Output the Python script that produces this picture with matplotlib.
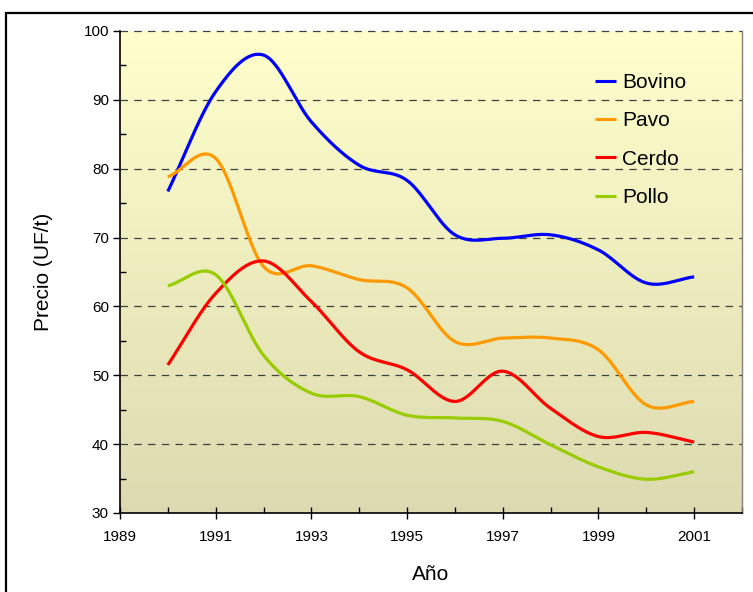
import numpy as np
import matplotlib
matplotlib.use("Agg")
import matplotlib.pyplot as plt
from matplotlib.patches import Rectangle
from matplotlib.colors import LinearSegmentedColormap

plt.rcParams['font.family'] = ['Liberation Sans Narrow', 'Liberation Sans', 'DejaVu Sans']

years = [1990, 1991, 1992, 1993, 1994, 1995, 1996, 1997, 1998, 1999, 2000, 2001]
bovino = [76.7, 91.2, 96.5, 86.8, 80.5, 78.3, 70.4, 69.9, 70.4, 68.2, 63.4, 64.3]
pavo = [78.8, 81.5, 65.8, 65.9, 63.9, 62.7, 54.9, 55.4, 55.4, 53.7, 45.7, 46.2]
cerdo = [51.5, 61.9, 66.6, 60.7, 53.4, 50.8, 46.2, 50.6, 45.2, 41.1, 41.7, 40.3]
pollo = [63.0, 64.6, 52.9, 47.4, 46.9, 44.2, 43.8, 43.3, 39.9, 36.7, 34.9, 36.0]
series_names = ["Bovino", "Pavo", "Cerdo", "Pollo"]
colors = ["#0000FF", "#FF9900", "#FF0000", "#99CC00"]
xticks = [1989, 1991, 1993, 1995, 1997, 1999, 2001]
yticks = [30, 40, 50, 60, 70, 80, 90, 100]


def smooth(x, y, n=30):
    """Catmull-Rom spline through the points (like Excel smoothed lines)."""
    x = np.asarray(x, float)
    y = np.asarray(y, float)
    px = np.concatenate([[2 * x[0] - x[1]], x, [2 * x[-1] - x[-2]]])
    py = np.concatenate([[2 * y[0] - y[1]], y, [2 * y[-1] - y[-2]]])
    xs, ys = [], []
    t = np.linspace(0, 1, n, endpoint=False)
    for i in range(1, len(px) - 2):
        for arr, out in ((px, xs), (py, ys)):
            p0, p1, p2, p3 = arr[i - 1], arr[i], arr[i + 1], arr[i + 2]
            out.append(0.5 * ((2 * p1) + (-p0 + p2) * t +
                              (2 * p0 - 5 * p1 + 4 * p2 - p3) * t ** 2 +
                              (-p0 + 3 * p1 - 3 * p2 + p3) * t ** 3))
    xs.append([x[-1]])
    ys.append([y[-1]])
    return np.concatenate(xs), np.concatenate(ys)


fig = plt.figure(figsize=(7.53, 5.92), dpi=100)
fig.patches.append(Rectangle((5.5 / 753, -0.1), 1.2, (592 - 12.5) / 592 + 0.1,
                             transform=fig.transFigure, fill=False,
                             edgecolor='black', linewidth=1.6))
ax = fig.add_axes([120 / 753, 79 / 592, 622 / 753, 482 / 592])

cmap = LinearSegmentedColormap.from_list("bg", ["#FFFFCC", "#DCDAB0"])
grad = np.linspace(0, 1, 256).reshape(-1, 1)
ax.imshow(grad, aspect='auto', cmap=cmap, extent=[0, 1, 0, 1],
          transform=ax.transAxes, zorder=0)

ax.set_xlim(1989, 2002)
ax.set_ylim(30, 100)

for yv in yticks[1:]:
    ax.axhline(yv, color='#404040', linestyle=(0, (6, 5)), linewidth=0.9,
               zorder=1, clip_on=False)

for name, vals, c in zip(series_names, [bovino, pavo, cerdo, pollo], colors):
    sx, sy = smooth(years, vals)
    ax.plot(sx, sy, color=c, linewidth=2.3, label=name, zorder=3,
            solid_capstyle='butt')

ax.set_xticks(xticks)
ax.set_xticks(np.arange(1989, 2003, 1), minor=True)
ax.set_yticks(yticks)
ax.set_yticks(np.arange(30, 101, 5), minor=True)
ax.tick_params(axis='x', which='major', direction='inout', length=8, width=1,
               labelsize=11, pad=8)
ax.tick_params(axis='x', which='minor', direction='in', length=4, width=1)
ax.tick_params(axis='y', which='major', direction='out', length=5, width=1,
               labelsize=11, pad=3)
ax.tick_params(axis='y', which='minor', direction='in', length=4, width=1)

ax.spines['top'].set_visible(False)
ax.spines['right'].set_color('#808080')
ax.spines['right'].set_linewidth(1)
ax.spines['left'].set_linewidth(1.2)
ax.spines['bottom'].set_linewidth(1.2)

ax.set_xlabel("Año", fontsize=15, labelpad=15)
ax.set_ylabel("Precio (UF/t)", fontsize=15, labelpad=22)

leg = ax.legend(loc='upper left', bbox_to_anchor=(0.733, 0.952), frameon=False,
                fontsize=15, handlelength=1.0, handletextpad=0.3,
                labelspacing=0.93)
for h in leg.get_lines():
    h.set_linewidth(2.2)

fig.savefig("out.png", dpi=100)
